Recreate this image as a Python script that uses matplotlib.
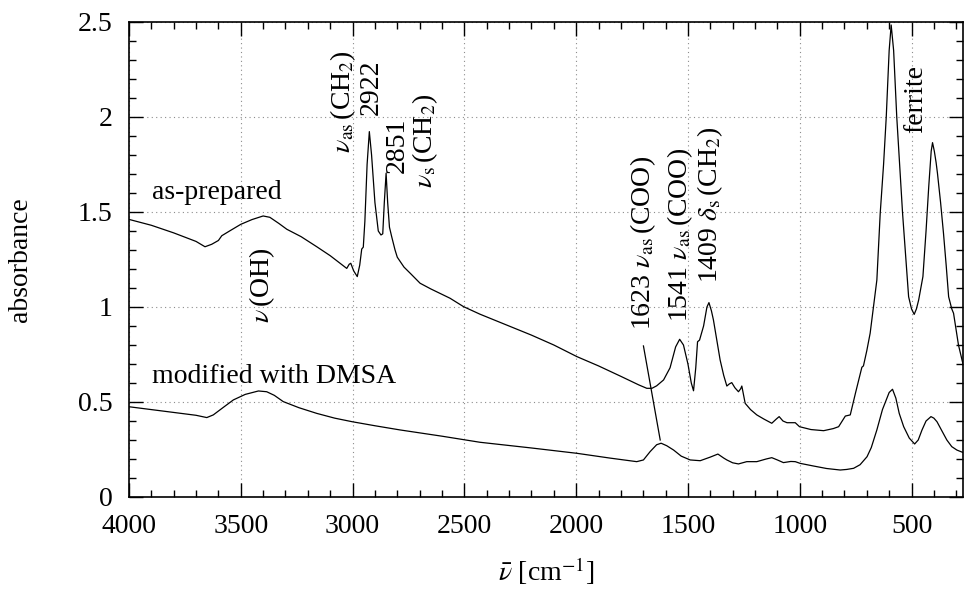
import matplotlib
matplotlib.use("Agg")
import matplotlib.pyplot as plt
from matplotlib.ticker import MultipleLocator

plt.rcParams['font.family'] = ['Liberation Serif', 'DejaVu Serif']
plt.rcParams['mathtext.fontset'] = 'stix'
plt.rcParams['font.size'] = 20

# as-prepared spectrum (wavenumber, absorbance)
wn_prep = [4000, 3900, 3800, 3700, 3660, 3630, 3600, 3585, 3550, 3500, 3450, 3400,
           3370, 3330, 3294, 3230, 3160, 3100, 3050, 3026, 3015, 3008, 2995, 2979,
           2968, 2959, 2952, 2945, 2935, 2925, 2915, 2900, 2885, 2873, 2865, 2858,
           2850, 2843, 2835, 2825, 2810, 2800, 2770, 2740, 2698, 2650, 2564, 2504,
           2430, 2300, 2200, 2100, 1997, 1900, 1800, 1720, 1684, 1661, 1640, 1609,
           1580, 1555, 1537, 1520, 1500, 1485, 1475, 1465, 1457, 1448, 1430, 1415,
           1406, 1395, 1386, 1370, 1356, 1340, 1326, 1315, 1304, 1290, 1274, 1264,
           1259, 1250, 1244, 1220, 1192, 1160, 1125, 1105, 1092, 1075, 1057, 1020,
           1001, 950, 893, 850, 826, 810, 796, 774, 750, 722, 715, 700, 685, 670,
           655, 640, 625, 613, 600, 591, 580, 566, 553, 540, 525, 513, 500, 488,
           478, 468, 455, 449, 435, 423, 412, 406, 398, 390, 384, 370, 357, 345,
           334, 320, 312, 290, 267]
abs_prep = [1.461, 1.43, 1.39, 1.345, 1.317, 1.33, 1.35, 1.375, 1.40, 1.435, 1.46, 1.479,
            1.472, 1.44, 1.409, 1.37, 1.317, 1.27, 1.225, 1.203, 1.225, 1.23, 1.19, 1.160,
            1.22, 1.305, 1.315, 1.45, 1.75, 1.923, 1.80, 1.55, 1.40, 1.379, 1.385, 1.55,
            1.704, 1.55, 1.42, 1.37, 1.30, 1.262, 1.21, 1.175, 1.125, 1.095, 1.046, 1.002,
            0.962, 0.90, 0.852, 0.80, 0.739, 0.69, 0.635, 0.59, 0.572, 0.572, 0.585, 0.616,
            0.68, 0.79, 0.83, 0.80, 0.70, 0.60, 0.559, 0.68, 0.817, 0.826, 0.90, 1.00,
            1.023, 0.98, 0.932, 0.82, 0.721, 0.64, 0.584, 0.595, 0.602, 0.575, 0.554, 0.57,
            0.584, 0.53, 0.493, 0.46, 0.432, 0.41, 0.388, 0.41, 0.423, 0.40, 0.391, 0.391,
            0.370, 0.355, 0.349, 0.36, 0.370, 0.40, 0.426, 0.432, 0.55, 0.683, 0.69, 0.77, 0.862, 1.00,
            1.142, 1.493, 1.75, 2.0, 2.35, 2.484, 2.35, 2.0, 1.75, 1.493, 1.25, 1.054, 0.99, 0.961,
            0.99, 1.037, 1.12, 1.16, 1.40, 1.633, 1.82, 1.865, 1.82, 1.76, 1.704, 1.55, 1.388, 1.22,
            1.054, 0.99, 0.967, 0.80, 0.686]

# modified with DMSA
wn_dmsa = [4000, 3900, 3800, 3700, 3652, 3623, 3580, 3533, 3480, 3421, 3384, 3350,
           3310, 3240, 3160, 3080, 3001, 2900, 2788, 2600, 2430, 2200, 1997, 1850,
           1729, 1699, 1669, 1640, 1620, 1595, 1564, 1530, 1490, 1445, 1400, 1366,
           1340, 1326, 1300, 1274, 1237, 1192, 1150, 1125, 1100, 1073, 1040, 1020,
           998, 938, 880, 819, 790, 759, 730, 699, 680, 655, 630, 600, 585, 570,
           555, 535, 510, 486, 470, 453, 435, 413, 400, 386, 365, 342, 320, 297, 267]
abs_dmsa = [0.475, 0.46, 0.445, 0.43, 0.418, 0.432, 0.47, 0.511, 0.54, 0.558, 0.554, 0.535,
            0.502, 0.47, 0.44, 0.415, 0.396, 0.375, 0.353, 0.32, 0.288, 0.258, 0.23, 0.205,
            0.186, 0.195, 0.239, 0.275, 0.283, 0.27, 0.247, 0.215, 0.195, 0.191, 0.21, 0.226,
            0.205, 0.195, 0.18, 0.174, 0.186, 0.186, 0.20, 0.207, 0.195, 0.181, 0.187, 0.186,
            0.177, 0.163, 0.15, 0.142, 0.145, 0.151, 0.17, 0.212, 0.26, 0.353, 0.46, 0.55, 0.567, 0.52,
            0.44, 0.37, 0.31, 0.279, 0.30, 0.353, 0.40, 0.423, 0.415, 0.396, 0.35, 0.30, 0.265, 0.247, 0.233]

# band annotations: (text, x, y bottom)
bands = [
    (r'$\nu_{\rm as}\,$(CH$_2$)', 3042, 1.81),
    ('2922', 2917, 2.01),
    ('2851', 2801, 1.705),
    (r'$\nu_{\rm s}\,$(CH$_2$)', 2676, 1.626),
    (r'$\nu\,$(OH)', 3405, 0.916),
    (r'1623 $\nu_{\rm as}\,$(COO)', 1700, 0.879),
    (r'1541 $\nu_{\rm as}\,$(COO)', 1535, 0.921),
    (r'1409 $\delta_{\rm s}\,$(CH$_2$)', 1400, 1.126),
    ('ferrite', 483, 1.916),
]

fig = plt.figure(figsize=(9.64, 5.89), dpi=100)
ax = fig.add_axes([0.1338, 0.1562, 0.8651, 0.8065])

ax.plot(wn_prep, abs_prep, color='black', lw=0.9)
ax.plot(wn_dmsa, abs_dmsa, color='black', lw=0.9)
ax.plot([1699, 1624], [0.795, 0.30], color='black', lw=0.9)

for txt, x, y in bands:
    ax.text(x, y, txt, rotation=90, ha='center', va='bottom')

ax.text(3897, 1.57, 'as-prepared', ha='left', va='baseline')
ax.text(3897, 0.60, 'modified with DMSA', ha='left', va='baseline')

ax.set_xlim(4000, 270)
ax.set_ylim(0, 2.5)
ax.xaxis.set_major_locator(MultipleLocator(500))
ax.xaxis.set_minor_locator(MultipleLocator(100))
ax.yaxis.set_major_locator(MultipleLocator(0.5))
ax.yaxis.set_minor_locator(MultipleLocator(0.1))
ax.set_yticks([0, 0.5, 1, 1.5, 2, 2.5], ['0', '0.5', '1', '1.5', '2', '2.5'])
ax.tick_params(which='both', direction='in', top=True, right=True, width=1)
ax.tick_params(which='major', length=10, pad=12)
ax.tick_params(which='minor', length=5)
ax.grid(True, which='major', linestyle=(0, (1, 3)), color='0.55', lw=0.8)
for s in ax.spines.values():
    s.set_linewidth(1.2)

ax.set_xlabel(r'$\bar{\nu}$ [cm$^{-1}$]', labelpad=12)
ax.set_ylabel('absorbance')
ax.yaxis.set_label_coords(-0.115, 0.5)

plt.savefig('out.png', dpi=100)
